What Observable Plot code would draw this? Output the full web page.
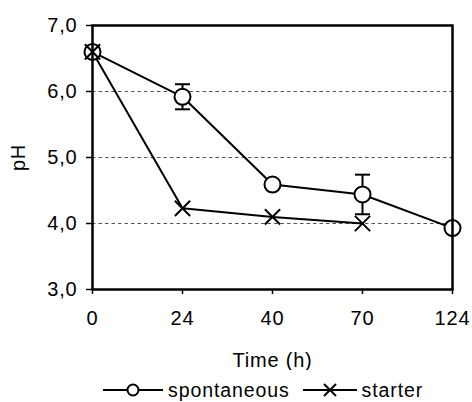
<!DOCTYPE html>
<html>
<head>
<meta charset="utf-8">
<script src="https://cdn.jsdelivr.net/npm/d3@7"></script>
<script src="https://cdn.jsdelivr.net/npm/@observablehq/plot@0.6"></script>
<style>
  html, body { margin: 0; padding: 0; background: #fff; }
  #wrap { position: relative; width: 472px; height: 402px; overflow: hidden; font-family: "Liberation Sans", Arial, sans-serif; }
  #legend { position: absolute; left: 103px; top: 379px; display: flex; align-items: center; font-size: 19.5px; letter-spacing: 0.9px; color: #000; line-height: 22px; }
  #legend span.t { margin-left: 5px; margin-right: 13px; }
</style>
</head>
<body>
<div id="wrap">
  <div id="chart"></div>
  <div id="legend"></div>
</div>
<script>
const times = ["0", "24", "40", "70", "124"];
const spontaneousPH = [6.6, 5.92, 4.59, 4.44, 3.93];
const spontaneousErr = [0, 0.19, 0, 0.3, 0];
const starterTimes = ["0", "24", "40", "70"];
const starterPH = [6.6, 4.23, 4.10, 4.00];
const yTicks = [3, 4, 5, 6, 7];
const gridValues = [4, 5, 6];
const seriesNames = ["spontaneous", "starter"];

const spont = times.map((t, i) => ({time: t, ph: spontaneousPH[i], lo: spontaneousPH[i] - spontaneousErr[i], hi: spontaneousPH[i] + spontaneousErr[i], err: spontaneousErr[i]}));
const errs = spont.filter(d => d.err > 0);
const starter = starterTimes.map((t, i) => ({time: t, ph: starterPH[i]}));

const fmt = d => d.toFixed(1).replace(".", ",");
const capSymbol = {draw(ctx, size) { const r = Math.sqrt(size / Math.PI); ctx.moveTo(-r, 0); ctx.lineTo(r, 0); }};

const chart = Plot.plot({
  width: 472,
  height: 370,
  marginLeft: 92,
  marginRight: 20,
  marginTop: 25,
  marginBottom: 81,
  style: {fontFamily: "'Liberation Sans', Arial, sans-serif", fontSize: "20px", color: "#000", background: "#fff", letterSpacing: "0.8px"},
  x: {type: "point", domain: times, padding: 0},
  y: {domain: [3, 7]},
  marks: [
    Plot.gridY(gridValues, {stroke: "#555", strokeOpacity: 1, strokeDasharray: "3.5,3", strokeWidth: 1}),
    Plot.axisY(yTicks, {tickFormat: fmt, tickSize: 6, tickPadding: 9, strokeWidth: 1.5, label: "pH", labelAnchor: "center", labelArrow: "none", labelOffset: 82, fontSize: 20}),
    Plot.axisX({tickSize: 5, tickPadding: 16, strokeWidth: 1.5, label: "Time (h)", labelAnchor: "center", labelArrow: "none", labelOffset: 77, fontSize: 20}),
    Plot.ruleX(errs, {x: "time", y1: "lo", y2: "hi", stroke: "black", strokeWidth: 2}),
    Plot.dot(errs, {x: "time", y: "lo", symbol: capSymbol, r: 7.5, fill: "none", stroke: "black", strokeWidth: 2}),
    Plot.dot(errs, {x: "time", y: "hi", symbol: capSymbol, r: 7.5, fill: "none", stroke: "black", strokeWidth: 2}),
    Plot.line(spont, {x: "time", y: "ph", stroke: "black", strokeWidth: 2}),
    Plot.line(starter, {x: "time", y: "ph", stroke: "black", strokeWidth: 2}),
    Plot.dot(spont, {x: "time", y: "ph", r: 8, fill: "white", stroke: "black", strokeWidth: 2}),
    Plot.dot(starter, {x: "time", y: "ph", r: 7, symbol: "times", stroke: "black", strokeWidth: 2}),
    Plot.frame({stroke: "black", strokeWidth: 2.5})
  ]
});
document.getElementById("chart").appendChild(chart);

// HTML legend
const legend = document.getElementById("legend");
function swatch(kind, w) {
  const ns = "http://www.w3.org/2000/svg";
  const s = document.createElementNS(ns, "svg");
  s.setAttribute("width", w); s.setAttribute("height", 16);
  const l = document.createElementNS(ns, "line");
  l.setAttribute("x1", 0); l.setAttribute("x2", w); l.setAttribute("y1", 8); l.setAttribute("y2", 8);
  l.setAttribute("stroke", "black"); l.setAttribute("stroke-width", 2);
  s.appendChild(l);
  if (kind === "circle") {
    const c = document.createElementNS(ns, "circle");
    c.setAttribute("cx", w / 2); c.setAttribute("cy", 8); c.setAttribute("r", 5.5);
    c.setAttribute("fill", "white"); c.setAttribute("stroke", "black"); c.setAttribute("stroke-width", 2);
    s.appendChild(c);
  } else {
    const p = document.createElementNS(ns, "path");
    const r = 6, cx = w / 2;
    p.setAttribute("d", `M${cx - r},${8 - r}L${cx + r},${8 + r}M${cx - r},${8 + r}L${cx + r},${8 - r}`);
    p.setAttribute("stroke", "black"); p.setAttribute("stroke-width", 2);
    s.appendChild(p);
  }
  return s;
}
const kinds = ["circle", "times"];
const widths = [60, 54];
seriesNames.forEach((name, i) => {
  legend.appendChild(swatch(kinds[i], widths[i]));
  const t = document.createElement("span");
  t.className = "t";
  t.textContent = name;
  legend.appendChild(t);
});
</script>
</body>
</html>
